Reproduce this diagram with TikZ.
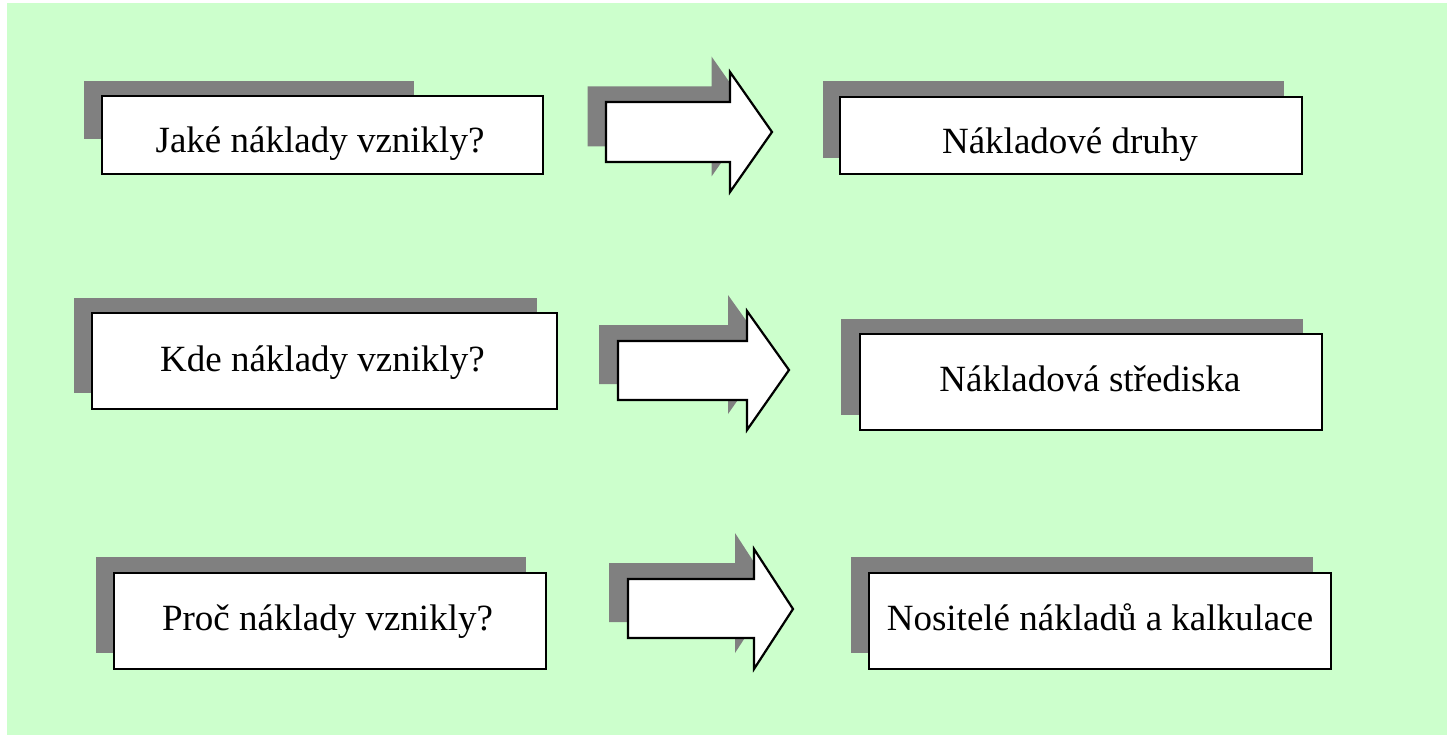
\documentclass[tikz,border=0pt]{standalone}
\usepackage{fontspec}
\setmainfont{Liberation Serif}
\definecolor{bggreen}{HTML}{CCFFCC}
\definecolor{shgray}{HTML}{808080}
\begin{document}
\begin{tikzpicture}[x=1pt,y=-1pt,
  shadowbox/.style={fill=shgray,draw=none},
  box/.style={draw=black,fill=white,line width=2.6pt,rectangle,inner sep=0pt},
  lbl/.style={font=\fontsize{37}{40}\selectfont,inner sep=0pt,anchor=base},
  blockarrow/.style={draw=black,fill=white,line width=2.2pt,line join=miter},
  arrowshadow/.style={fill=shgray,draw=none}]
\useasboundingbox (0,0) rectangle (1447,735);
\fill[white] (0,0) rectangle (1447,735);
\fill[bggreen] (7,3) rectangle (1447,735);
% shadows of boxes
\fill[shadowbox] (84,81) rectangle (414,139);
\fill[shadowbox] (823,81) rectangle (1284,158);
\fill[shadowbox] (74,298) rectangle (537,393);
\fill[shadowbox] (841,319) rectangle (1303,415);
\fill[shadowbox] (96,557) rectangle (526,653);
\fill[shadowbox] (851,557) rectangle (1313,653);
% boxes
\node[box,minimum width=441pt,minimum height=78pt] (b1) at (322.5,135) {};
\node[box,minimum width=462pt,minimum height=77pt] (b2) at (1071,135.5) {};
\node[box,minimum width=465pt,minimum height=96pt] (b3) at (324.5,361) {};
\node[box,minimum width=462pt,minimum height=96pt] (b4) at (1091,382) {};
\node[box,minimum width=432pt,minimum height=96pt] (b5) at (330,621) {};
\node[box,minimum width=462pt,minimum height=96pt] (b6) at (1100,621) {};
% labels
\node[lbl] (t1) at (320,153) {Jaké náklady vznikly?};
\node[lbl] (t2) at (1070,154) {Nákladové druhy};
\node[lbl] (t3) at (322.5,371) {Kde náklady vznikly?};
\node[lbl] (t4) at (1090,391) {Nákladová střediska};
\node[lbl] (t5) at (327.5,630) {Proč náklady vznikly?};
\node[lbl] (t6) at (1100,630) {Nositelé nákladů a kalkulace};
% arrow 1
\fill[arrowshadow,shift={(-18.5,-15.5)}] (606,102) -- (730,102) -- (730,72) -- (772,132) -- (730,192) -- (730,162) -- (606,162) -- cycle;
\draw[blockarrow] (606,102) -- (730,102) -- (730,72) -- (772,132) -- (730,192) -- (730,162) -- (606,162) -- cycle;
% arrow 2
\fill[arrowshadow,shift={(-19,-16)}] (618,341) -- (747,341) -- (747,311) -- (789,370) -- (747,430) -- (747,400) -- (618,400) -- cycle;
\draw[blockarrow] (618,341) -- (747,341) -- (747,311) -- (789,370) -- (747,430) -- (747,400) -- (618,400) -- cycle;
% arrow 3
\fill[arrowshadow,shift={(-19,-16)}] (628,579) -- (754,579) -- (754,549) -- (793,609) -- (754,669) -- (754,638) -- (628,638) -- cycle;
\draw[blockarrow] (628,579) -- (754,579) -- (754,549) -- (793,609) -- (754,669) -- (754,638) -- (628,638) -- cycle;
\end{tikzpicture}
\end{document}
